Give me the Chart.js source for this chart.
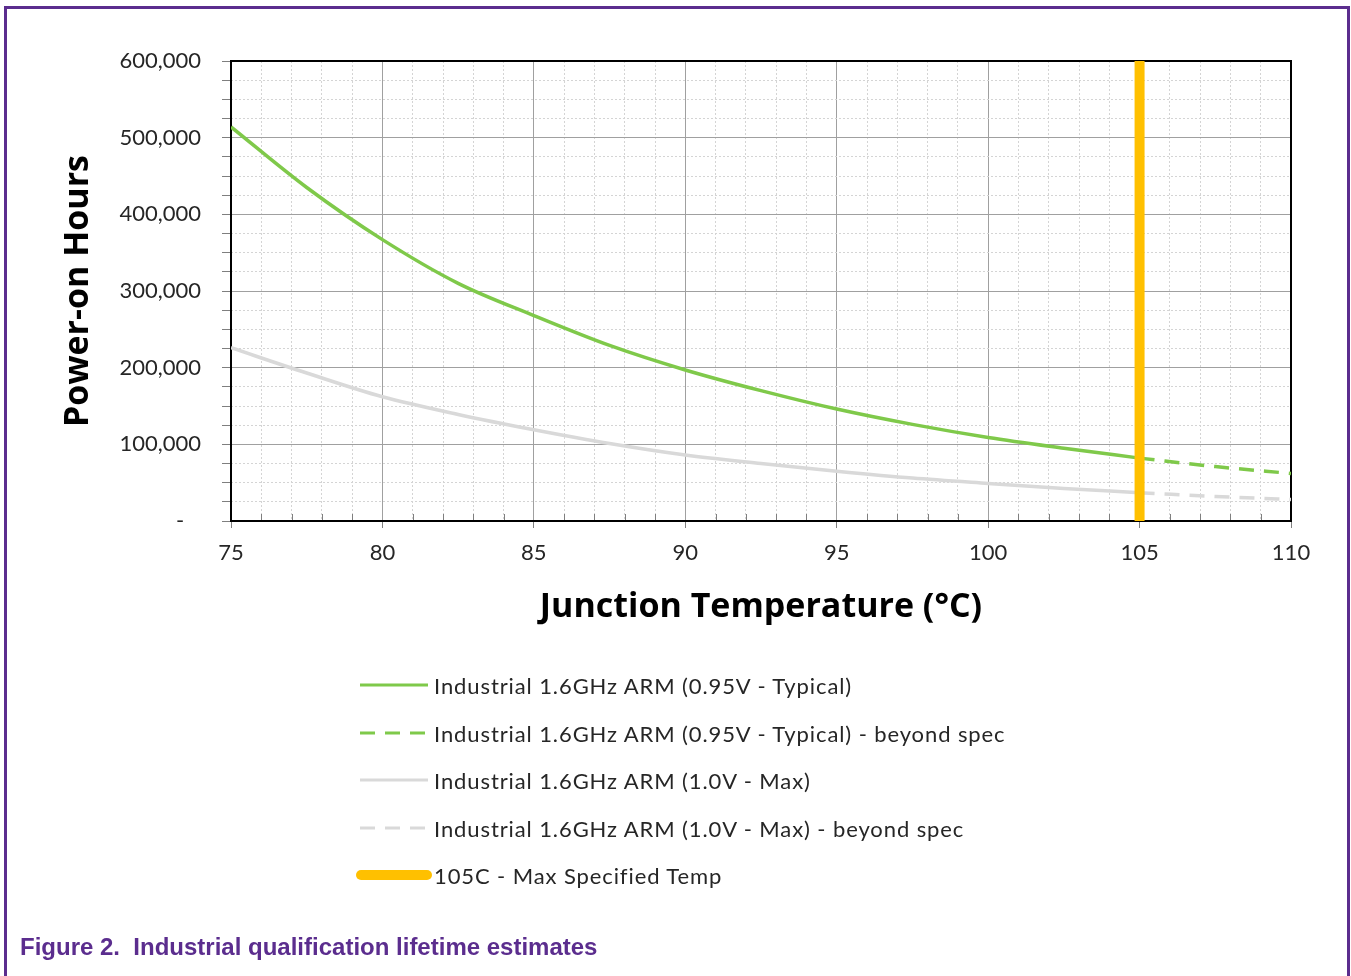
<!DOCTYPE html>
<html>
<head>
<meta charset="utf-8">
<script src="https://cdn.jsdelivr.net/npm/chart.js@4/dist/chart.umd.min.js"></script>
<style>
  html, body { margin: 0; padding: 0; background: #ffffff; }
  #page { position: relative; width: 1351px; height: 976px; overflow: hidden; background: #fff; }
  .frame { position: absolute; background: #5b2d8e; }
  #chartBox { position: absolute; left: 0; top: 0; width: 1351px; height: 640px; }
  #legend { position: absolute; left: 0; top: 0; width: 1351px; height: 976px; pointer-events: none; }
  .lrow { position: absolute; left: 354px; height: 30px; display: flex; align-items: center; font-family: Lato, "Open Sans", sans-serif; font-size: 22px; letter-spacing: 0.9px; color: #262626; white-space: pre; }
  .lrow svg { display: block; margin-right: 2px; }
  #caption { position: absolute; left: 20px; top: 933px; font-family: "Liberation Sans", Arial, sans-serif; font-weight: bold; font-size: 24px; color: #5b2d8e; white-space: pre; }
</style>
</head>
<body>
<div id="page">
  <div class="frame" style="left:4px; top:6px; width:1346px; height:3px;"></div>
  <div class="frame" style="left:4px; top:6px; width:3px; height:970px;"></div>
  <div class="frame" style="left:1347px; top:6px; width:3px; height:970px;"></div>
  <div id="chartBox"><canvas id="c" width="1351" height="640"></canvas></div>
  <div id="legend"></div>
  <div id="caption">Figure 2.  Industrial qualification lifetime estimates</div>
</div>
<script>
// ---- data ----
const tempsSpec = [75, 77.5, 80, 82.5, 85, 87.5, 90, 92.5, 95, 97.5, 100, 102.5, 105];
const tempsBeyond = [105, 107.5, 110];
const typicalSpec = [514000, 435000, 367000, 310000, 268000, 229000, 197000, 170000, 146000, 126000, 109000, 95000, 82000];
const typicalBeyond = [82000, 71000, 62000];
const maxSpec = [226000, 193000, 162000, 139000, 119000, 101000, 86000, 75000, 65000, 56000, 49000, 42500, 37000];
const maxBeyond = [37000, 32000, 28000];
const maxTempX = [105, 105];
const maxTempY = [0, 600000];
const xTicks = [75, 80, 85, 90, 95, 100, 105, 110];
const yTicks = [0, 100000, 200000, 300000, 400000, 500000, 600000];
const seriesLabels = [
  'Industrial 1.6GHz ARM (0.95V - Typical)',
  'Industrial 1.6GHz ARM (0.95V - Typical) - beyond spec',
  'Industrial 1.6GHz ARM (1.0V - Max)',
  'Industrial 1.6GHz ARM (1.0V - Max) - beyond spec',
  '105C - Max Specified Temp'
];

const GREEN = '#7fc94a';
const GRAY = '#d9d9d9';
const ORANGE = '#ffc000';
const pts = (xs, ys) => xs.map((x, i) => ({ x: x, y: ys[i] }));

const chartFont = 'Lato, "Open Sans", sans-serif';
const titleFont = '"Open Sans", Lato, sans-serif';

const framePlugin = {
  id: 'frame',
  beforeDatasetsDraw(chart) {
    const { ctx, chartArea: a, scales } = chart;
    ctx.save();
    const xs = scales.x;
    ctx.strokeStyle = '#7f7f7f';
    ctx.lineWidth = 1;
    for (let v = xs.min + 1; v < xs.max; v++) {
      if (v % 5 === 0) continue;
      const px = Math.round(xs.getPixelForValue(v)) + 0.5;
      ctx.beginPath();
      ctx.moveTo(px, a.bottom - 7);
      ctx.lineTo(px, a.bottom);
      ctx.stroke();
    }
    ctx.strokeStyle = '#000';
    ctx.lineWidth = 2;
    ctx.strokeRect(a.left, a.top, a.right - a.left, a.bottom - a.top);
    ctx.restore();
  }
};

const chart = new Chart(document.getElementById('c'), {
  type: 'line',
  data: {
    datasets: [
      { label: seriesLabels[0], data: pts(tempsSpec, typicalSpec), borderColor: GREEN, borderWidth: 3.5, pointRadius: 0, cubicInterpolationMode: 'monotone', order: 1 },
      { label: seriesLabels[1], data: pts(tempsBeyond, typicalBeyond), borderColor: GREEN, borderWidth: 3.5, borderDash: [15, 10], pointRadius: 0, cubicInterpolationMode: 'monotone', order: 1 },
      { label: seriesLabels[2], data: pts(tempsSpec, maxSpec), borderColor: GRAY, borderWidth: 3.5, pointRadius: 0, cubicInterpolationMode: 'monotone', order: 1 },
      { label: seriesLabels[3], data: pts(tempsBeyond, maxBeyond), borderColor: GRAY, borderWidth: 3.5, borderDash: [15, 10], pointRadius: 0, cubicInterpolationMode: 'monotone', order: 1 },
      { label: seriesLabels[4], data: pts(maxTempX, maxTempY), borderColor: ORANGE, borderWidth: 10, borderCapStyle: 'round', pointRadius: 0, order: 0 }
    ]
  },
  options: {
    responsive: false,
    animation: false,
    devicePixelRatio: 1,
    layout: { padding: { left: 58, right: 60, top: 61, bottom: 12 } },
    plugins: { legend: { display: false }, tooltip: { enabled: false } },
    scales: {
      x: {
        type: 'linear', min: 75, max: 110,
        afterBuildTicks(s) { const t = []; for (let v = 75; v <= 110; v++) t.push({ value: v }); s.ticks = t; },
        afterFit(s) { s.height = 107; },
        ticks: {
          autoSkip: false, maxRotation: 0, padding: 12, color: '#262626',
          font: { family: chartFont, size: 22 },
          callback: (v) => xTicks.includes(v) ? String(v) : ''
        },
        grid: {
          color: (c) => (c.tick && c.tick.value % 5 === 0) ? '#a0a0a0' : '#d4d4d4',
          lineWidth: 1,
          tickLength: 7,
          tickColor: (c) => (c.tick && c.tick.value % 5 === 0) ? '#7f7f7f' : 'rgba(0,0,0,0)'
        },
        border: { display: false, dash: (c) => (c.tick && c.tick.value % 5 !== 0) ? [2, 2] : [] },
        title: { display: true, text: 'Junction Temperature (°C)', color: '#000', padding: 0, font: { family: titleFont, size: 34, weight: 'bold' } }
      },
      y: {
        type: 'linear', min: 0, max: 600000,
        afterBuildTicks(s) { const t = []; for (let v = 0; v <= 600000; v += 25000) t.push({ value: v }); s.ticks = t; },
        afterFit(s) { s.width = 173; },
        ticks: {
          autoSkip: false, padding: 21, color: '#262626',
          font: { family: chartFont, size: 22 },
          callback: (v) => yTicks.includes(v) ? (v === 0 ? '-   ' : v.toLocaleString('en-US')) : ''
        },
        grid: {
          color: (c) => (c.tick && c.tick.value % 100000 === 0) ? '#a0a0a0' : '#d4d4d4',
          lineWidth: 1,
          tickLength: 9,
          tickColor: '#7f7f7f'
        },
        border: { display: false, dash: (c) => (c.tick && c.tick.value % 100000 !== 0) ? [2, 2] : [] },
        title: { display: true, text: 'Power-on Hours', color: '#000', padding: 0, font: { family: titleFont, size: 34, weight: 'bold' } }
      }
    }
  },
  plugins: [framePlugin]
});

// HTML legend built from the chart's datasets
const legendRowsY = [685, 733, 780, 828, 875];
const legendEl = document.getElementById('legend');
chart.data.datasets.forEach((ds, i) => {
  const row = document.createElement('div');
  row.className = 'lrow';
  row.style.top = (legendRowsY[i] - 15) + 'px';
  const w = 78, h = 12;
  const thick = ds.borderWidth >= 8;
  const x1 = thick ? 7 : 6, x2 = thick ? 73 : 74;
  const dashAttr = ds.borderDash ? ` stroke-dasharray="${ds.borderDash.join(' ')}"` : '';
  row.innerHTML = `<svg width="${w}" height="${h}"><line x1="${x1}" y1="${h/2}" x2="${x2}" y2="${h/2}" stroke="${ds.borderColor}" stroke-width="${thick ? 10 : 3}" stroke-linecap="${thick ? 'round' : 'butt'}"${dashAttr}/></svg><span></span>`;
  row.querySelector('span').textContent = ds.label;
  legendEl.appendChild(row);
});
</script>
</body>
</html>
